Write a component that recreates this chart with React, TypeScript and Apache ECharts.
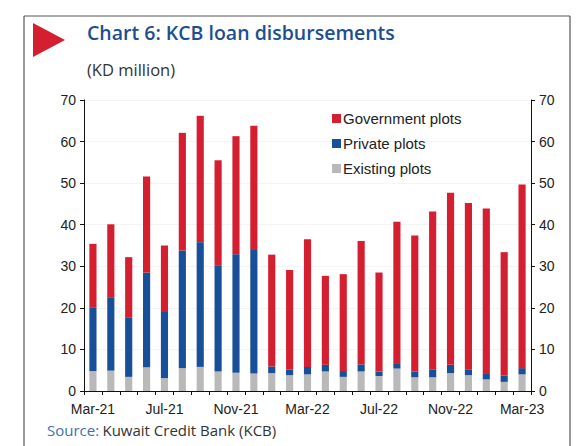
import React, { useEffect, useRef } from "react";
import * as echarts from "echarts";

const categories = [
  "Mar-21", "Apr-21", "May-21", "Jun-21", "Jul-21", "Aug-21", "Sep-21", "Oct-21", "Nov-21", "Dec-21",
  "Jan-22", "Feb-22", "Mar-22", "Apr-22", "May-22", "Jun-22", "Jul-22", "Aug-22", "Sep-22", "Oct-22",
  "Nov-22", "Dec-22", "Jan-23", "Feb-23", "Mar-23",
];
const existingPlots = [4.8, 4.9, 3.4, 5.7, 3.1, 5.5, 5.8, 4.7, 4.4, 4.2, 4.3, 3.8, 4.0, 4.7, 3.4, 4.7, 3.6, 5.4, 3.3, 3.3, 4.3, 3.8, 2.8, 2.2, 4.0];
const privatePlots = [15.2, 17.5, 14.2, 22.8, 15.9, 28.3, 30.0, 25.4, 28.5, 29.7, 1.6, 1.4, 1.8, 1.6, 1.4, 1.7, 1.1, 1.3, 1.4, 1.9, 2.0, 1.4, 1.5, 1.5, 1.5];
const governmentPlots = [15.4, 17.7, 14.6, 23.1, 16.0, 28.3, 30.4, 25.4, 28.4, 29.9, 26.9, 23.9, 30.7, 21.4, 23.3, 29.7, 23.8, 34.0, 32.7, 38.0, 41.4, 40.0, 39.6, 29.7, 44.2];
const yTicks = { min: 0, max: 70, interval: 10 };

const RED = "#d41f30";
const BLUE = "#174f98";
const GRAY = "#b9b9b9";

export default function App() {
  const ref = useRef<HTMLDivElement>(null);
  useEffect(() => {
    if (!ref.current) return;
    const chart = echarts.init(ref.current, null, { renderer: "svg" });
    const axisFont = { fontFamily: "Liberation Sans", fontSize: 14, color: "#222" };
    const yAxisCommon = {
      type: "value" as const,
      min: yTicks.min,
      max: yTicks.max,
      interval: yTicks.interval,
      axisLine: { show: true, lineStyle: { color: "#111", width: 1 } },
      axisTick: { show: true, inside: false, length: 4, lineStyle: { color: "#111" } },
      axisLabel: { ...axisFont, margin: 8 },
      splitLine: { show: false },
    };
    chart.setOption({
      animation: false,
      backgroundColor: "#fff",
      grid: { left: 84, right: 47, top: 100, bottom: 55, containLabel: false },
      legend: {
        orient: "vertical",
        left: 327,
        top: 106,
        itemWidth: 9,
        itemHeight: 9,
        itemGap: 10,
        icon: "rect",
        textStyle: { fontFamily: "Liberation Sans", fontSize: 15, color: "#222", padding: [0, 0, 0, -3] },
        data: ["Government plots", "Private plots", "Existing plots"],
      },
      xAxis: {
        type: "category",
        data: categories,
        axisLine: { show: true, lineStyle: { color: "#111" } },
        axisTick: { show: true, interval: 0, length: 4, lineStyle: { color: "#111" } },
        axisLabel: { ...axisFont, interval: 3, margin: 11 },
      },
      yAxis: [
        { ...yAxisCommon, position: "left" },
        { ...yAxisCommon, position: "right", splitLine: { show: true, lineStyle: { color: "#f4f4f4" } } },
      ],
      series: [
        { name: "Existing plots", type: "bar", stack: "a", data: existingPlots, barWidth: "40%", itemStyle: { color: GRAY } },
        { name: "Private plots", type: "bar", stack: "a", data: privatePlots, barWidth: "40%", itemStyle: { color: BLUE } },
        { name: "Government plots", type: "bar", stack: "a", data: governmentPlots, barWidth: "40%", itemStyle: { color: RED } },
      ],
      graphic: [
        { type: "line", shape: { x1: 24, y1: 16, x2: 570, y2: 16 }, style: { stroke: "#555", lineWidth: 1.2 } },
        { type: "line", shape: { x1: 24, y1: 16, x2: 24, y2: 446 }, style: { stroke: "#555", lineWidth: 1.2 } },
        { type: "line", shape: { x1: 570, y1: 16, x2: 570, y2: 446 }, style: { stroke: "#555", lineWidth: 1.2 } },
        { type: "polygon", shape: { points: [[33, 23], [65, 40], [33, 57]] }, style: { fill: "#d41f30" } },
        {
          type: "text",
          left: 87,
          top: 22,
          style: { text: "Chart 6: KCB loan disbursements", fontFamily: "Open Sans", fontWeight: 600, fontSize: 19.5, fill: "#1d4f8f" },
        },
        {
          type: "text",
          left: 87,
          top: 61,
          style: { text: "(KD million)", fontFamily: "Open Sans", fontSize: 16.5, fill: "#333" },
        },
        {
          type: "text",
          left: 47,
          top: 422,
          style: {
            text: "{a|Source:} {b|Kuwait Credit Bank (KCB)}",
            rich: {
              a: { fontFamily: "Open Sans", fontSize: 15, fill: "#3f6fb0", color: "#3f6fb0" },
              b: { fontFamily: "Open Sans", fontSize: 15, fill: "#333", color: "#333" },
            },
          },
        },
      ],
    });
    return () => chart.dispose();
  }, []);
  return <div ref={ref} style={{ position: "absolute", left: 0, top: 0, width: 578, height: 446 }} />;
}
